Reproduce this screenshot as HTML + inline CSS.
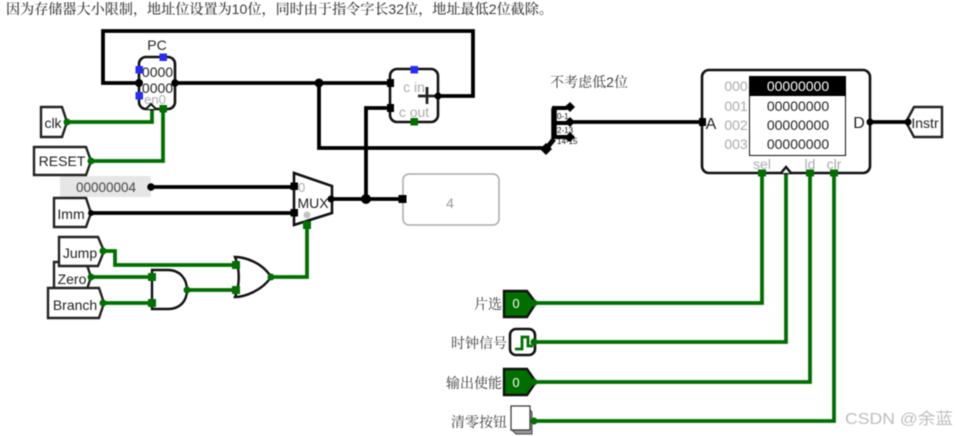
<!DOCTYPE html>
<html><head><meta charset="utf-8">
<style>
html,body{margin:0;padding:0;background:#fff;width:957px;height:436px;overflow:hidden}
svg{display:block;filter:blur(.4px)}
text{font-family:"Liberation Sans",sans-serif}
.cj{font-family:"Liberation Sans","Noto Serif CJK SC",serif;fill:#3a3a3a;font-size:14px}
</style></head><body>
<svg width="957" height="436" viewBox="0 0 957 436" xmlns="http://www.w3.org/2000/svg">
<text class="cj" x="6" y="14" textLength="547" lengthAdjust="spacingAndGlyphs" style="font-size:14px;font-weight:500">因为存储器大小限制，地址位设置为10位，同时由于指令字长32位，地址最低2位截除。</text>
<text class="cj" x="550" y="87" textLength="78" lengthAdjust="spacingAndGlyphs">不考虑低2位</text>

<rect x="60" y="176" width="91" height="21" rx="2" fill="#e6e6e6"/>
<text x="106" y="192" font-size="13.5" fill="#444" text-anchor="middle">00000004</text>

<!-- black wires -->
<g fill="none" stroke="#000" stroke-width="3.8">
<path d="M139 83H103V31H473V96H438"/>
<path d="M175 83H390"/>
<path d="M319 83V148H546"/>
<path d="M366 199V108H390"/>
<path d="M151 187H294"/>
<path d="M91 213H294"/>
<path d="M331 199H402"/>
<path d="M570 122H703"/>
<path d="M870 122H908"/>
<path d="M546 149L554 139" stroke-width="5"/>
<path d="M554 139V108" stroke-width="5.5"/>
<path d="M552 108H566L570 105" stroke-width="4"/>
<path d="M554 123H570" stroke-width="4"/>
<path d="M554 137H566L570 140" stroke-width="4"/>
</g>
<!-- green wires -->
<g fill="none" stroke="#006f00" stroke-width="3.8">
<path d="M67 122H152V109"/>
<path d="M91 161H163V109"/>
<path d="M103 251H115V265H235"/>
<path d="M91 277H151"/>
<path d="M103 303H151"/>
<path d="M187 290H235"/>
<path d="M271 277H307V225"/>
<path d="M534 303H762V173"/>
<path d="M534 342H786V173"/>
<path d="M534 382H810V173"/>
<path d="M534 421H834V173"/>
</g>

<!-- pins -->
<g fill="#fff" stroke="#222" stroke-width="2.4">
<path d="M41 107H62L67 122L62 137H41Z"/>
<path d="M54 262H86L91 277L86 292H54Z"/>
<path d="M34 147H86L91 161L86 175H34Z"/>
<path d="M54 198H86L91 213L86 227H54Z"/>
<path d="M59 237H98L104 251L98 266H59Z"/>
<path d="M48 288H99L104 303L99 318H48Z"/>
<path d="M906 122L914 107H942V137H914Z"/>
</g>
<g font-size="14" fill="#222" text-anchor="middle">
<text x="53" y="128">clk</text>
<text x="62" y="166">RESET</text>
<text x="71" y="219">Imm</text>
<text x="80" y="258">Jump</text>
<text x="72" y="284">Zero</text>
<text x="75" y="310">Branch</text>
<text x="925" y="128">Instr</text>
<text x="157" y="50">PC</text>
</g>

<!-- PC register -->
<rect x="139" y="57" width="36" height="52" rx="7" fill="#fff" stroke="#111" stroke-width="2.6"/>
<text x="157.500" y="77" font-size="14" fill="#222" text-anchor="middle">0000</text>
<text x="157.500" y="93" font-size="14" fill="#222" text-anchor="middle">0000</text>
<text x="155" y="104" font-size="13" fill="#aaa" text-anchor="middle">en0</text>
<path d="M146 109L151 104L156 109" fill="#fff" stroke="#111" stroke-width="2"/>
<g fill="#2a2aff">
<rect x="159.500" y="53.500" width="7.500" height="7.500"/>
<rect x="135.500" y="66" width="7.500" height="7.500"/>
<rect x="135.500" y="92" width="7.500" height="7.500"/>
</g>
<rect x="159.500" y="105" width="7.500" height="7.500" fill="#006f00"/>

<!-- adder -->
<rect x="390" y="69" width="48" height="53" rx="7" fill="#fff" stroke="#111" stroke-width="2.6"/>
<text x="414" y="92" font-size="14" fill="#aaa" text-anchor="middle">c in</text>
<text x="414" y="117" font-size="14" fill="#aaa" text-anchor="middle">c out</text>
<path d="M427 87V104M418 96H436" stroke="#222" stroke-width="2.800" fill="none"/>
<rect x="410.500" y="66" width="7.500" height="7.500" fill="#2a2aff"/>
<rect x="410.500" y="118" width="7.500" height="7.500" fill="#006f00"/>

<!-- mux -->
<path d="M294 173L332 186V213L294 225Z" fill="#fff" stroke="#111" stroke-width="2.6"/>
<text x="298" y="192" font-size="13" fill="#aaa">0</text>
<text x="313" y="208" font-size="14" fill="#222" text-anchor="middle">MUX</text>
<circle cx="307" cy="215" r="3.500" fill="#c4c4c4"/>
<rect x="303" y="221" width="8" height="8" fill="#006f00"/>

<!-- gray box 4 -->
<rect x="403" y="174" width="96" height="51" rx="6" fill="#fff" stroke="#aaa" stroke-width="1.500"/>
<text x="450" y="208" font-size="14" fill="#999" text-anchor="middle">4</text>

<!-- gates -->
<path d="M152 270H168C180 270 187 279 187 290C187 301 180 309 168 309H152Z" fill="#fff" stroke="#111" stroke-width="2.400"/>
<path d="M235 257C244 257 262 262 271 277C262 291 244 297 235 297C240 285 240 269 235 257Z" fill="#fff" stroke="#111" stroke-width="2.400"/>

<!-- memory -->
<rect x="702" y="70" width="168" height="103" rx="7" fill="#fff" stroke="#111" stroke-width="2.600"/>
<rect x="749.500" y="76.500" width="96" height="79" fill="#fff" stroke="#111" stroke-width="1"/>
<rect x="749" y="76" width="97" height="20" fill="#000"/>
<g font-size="14" fill="#aaa" text-anchor="middle">
<text x="736" y="91">000</text><text x="736" y="111">001</text><text x="736" y="130">002</text><text x="736" y="149">003</text>
<text x="762" y="169">sel</text><text x="810" y="169">ld</text><text x="834" y="169">clr</text>
</g>
<g font-size="14" fill="#222" text-anchor="middle">
<text x="798" y="91" fill="#fff">00000000</text>
<text x="798" y="111">00000000</text>
<text x="798" y="130">00000000</text>
<text x="798" y="149">00000000</text>
<text x="711" y="129" font-size="16">A</text>
<text x="859" y="128" font-size="16">D</text>
</g>
<path d="M781 173L786 167L791 173" fill="#fff" stroke="#111" stroke-width="2.400"/>
<rect x="758" y="169.500" width="8" height="7" fill="#006f00"/>
<rect x="806" y="169.500" width="8" height="7" fill="#006f00"/>
<rect x="830" y="169.500" width="8" height="7" fill="#006f00"/>

<!-- splitter labels -->
<g font-size="8" fill="#111">
<rect x="557" y="112" width="10" height="8" fill="#fff"/>
<rect x="557" y="126" width="13" height="8" fill="#fff"/>
<text x="557" y="119">0-1</text>
<text x="557" y="133">2-13</text>
<text x="557" y="144">14-15</text>
</g>

<!-- junctions and ports black -->
<g fill="#000">
<circle cx="319" cy="83" r="4.500"/><circle cx="366" cy="199" r="5"/>
<circle cx="139" cy="83" r="4"/><circle cx="175" cy="83" r="3.800"/>
<rect x="387" y="79" width="7" height="8"/><rect x="387" y="104" width="7" height="8"/>
<circle cx="438" cy="96" r="3.500"/>
<circle cx="151" cy="187" r="3.800"/>
<rect x="290.500" y="182.500" width="7.500" height="7.500"/><rect x="290.500" y="209" width="7.500" height="7.500"/>
<circle cx="331" cy="199" r="3.500"/>
<rect x="398.500" y="195" width="8" height="8"/>
<rect x="699" y="118" width="7" height="8"/>
<circle cx="870" cy="122" r="3.500"/><circle cx="908" cy="122" r="3.500"/>
<circle cx="91" cy="213" r="3"/>
<path d="M570 102L575 107L570 112L565 107Z"/>
<path d="M570 117L575 122L570 127L565 122Z"/>
<path d="M570 132L575 137L570 142L565 137Z"/>
<path d="M546 143L552 149L546 155L540 149Z"/>
</g>
<!-- green ports -->
<g fill="#006f00">
<circle cx="67" cy="122" r="3.500"/><circle cx="91" cy="161" r="3.500"/>
<circle cx="103" cy="251" r="3.500"/><circle cx="91" cy="277" r="3.500"/><circle cx="103" cy="303" r="3.500"/>
<rect x="148" y="273" width="8" height="8"/><rect x="148" y="299" width="8" height="8"/>
<rect x="232" y="261" width="8" height="8"/><rect x="232" y="286" width="8" height="8"/>
<circle cx="187" cy="290" r="3.500"/><circle cx="271" cy="277" r="3.500"/>
</g>

<!-- input controls -->
<path d="M504 291H527L536 303L527 317H504Z" fill="#006f00" stroke="#111" stroke-width="2.400"/>
<path d="M504 369H527L536 382L527 395H504Z" fill="#006f00" stroke="#111" stroke-width="2.400"/>
<text x="516" y="308" font-size="13" fill="#fff" text-anchor="middle">0</text>
<text x="516" y="387" font-size="13" fill="#fff" text-anchor="middle">0</text>
<rect x="510" y="329" width="25" height="26" rx="6" fill="#fff" stroke="#111" stroke-width="2.600"/>
<path d="M515 349H522V337H528V346H533" fill="none" stroke="#006f00" stroke-width="2.800"/>
<path d="M511 406H527L532 412V434H516L511 429Z" fill="#999" stroke="#444" stroke-width="1"/>
<rect x="511" y="406" width="19" height="24" fill="#fff" stroke="#333" stroke-width="1.200"/>
<circle cx="534" cy="303" r="3.500" fill="#006f00"/><circle cx="534" cy="342" r="3.500" fill="#006f00"/>
<circle cx="534" cy="382" r="3.500" fill="#006f00"/><circle cx="534" cy="421" r="3.500" fill="#006f00"/>

<g text-anchor="end">
<text class="cj" x="502" y="309">片选</text>
<text class="cj" x="507" y="348">时钟信号</text>
<text class="cj" x="502" y="388">输出使能</text>
<text class="cj" x="507" y="427">清零按钮</text>
</g>

<text x="845" y="424" font-size="16" fill="#bdbdbd" textLength="108" lengthAdjust="spacingAndGlyphs" style="font-family:'Liberation Sans','Noto Sans CJK SC',sans-serif">CSDN @余蓝</text>
</svg>
</body></html>
